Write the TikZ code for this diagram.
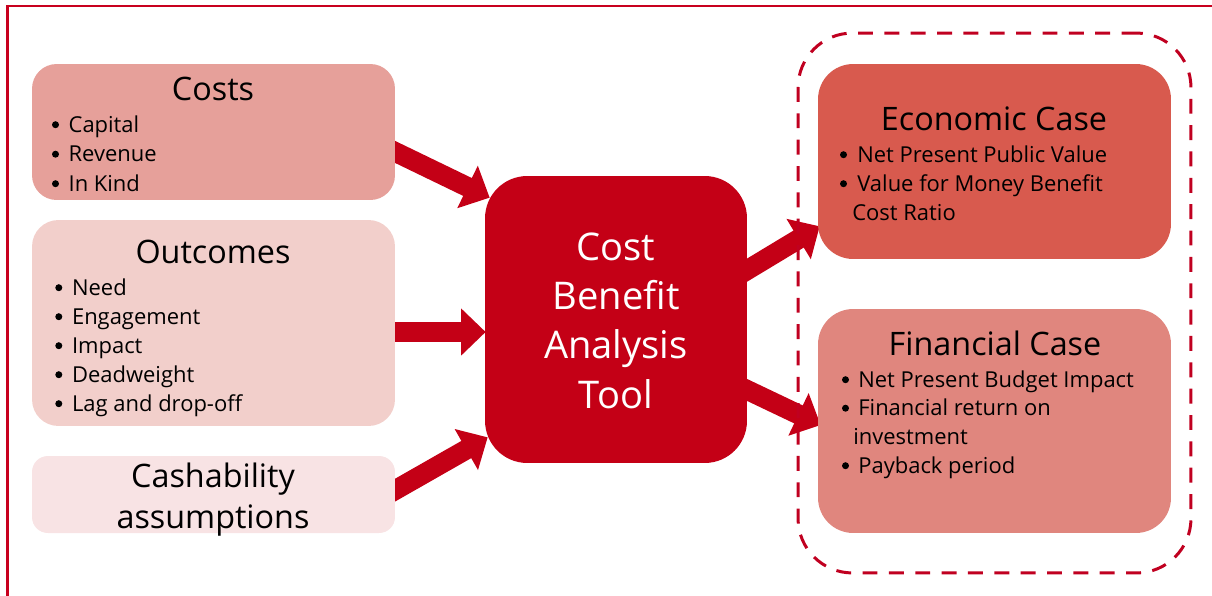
\documentclass[tikz,border=0pt]{standalone}
\usepackage{fontspec}
\setmainfont{Open Sans}
\usetikzlibrary{arrows.meta,calc,backgrounds}
\definecolor{framered}{RGB}{200,0,30}
\definecolor{arrowred}{RGB}{196,0,22}
\definecolor{dashred}{RGB}{192,0,32}
\definecolor{costfill}{RGB}{230,160,154}
\definecolor{outfill}{RGB}{242,207,203}
\definecolor{cashfill}{RGB}{248,227,228}
\definecolor{econfill}{RGB}{216,90,78}
\definecolor{finfill}{RGB}{224,134,126}
\tikzset{
  box/.style={rectangle, inner sep=0pt, draw=none},
  ttl/.style={font=\fontsize{18.4}{22}\selectfont, anchor=base, inner sep=0pt},
  bul/.style={font=\fontsize{12.5}{15}\selectfont, anchor=base west, inner sep=0pt},
  bigtxt/.style={font=\fontsize{21.7}{26}\selectfont, text=white, anchor=base, inner sep=0pt},
  bigarrow/.style={draw=arrowred, line width=11.3pt, -{Triangle[length=14pt,width=26pt]}},
  dot/.style={fill=black},
}
\begin{document}
\begin{tikzpicture}[x=0.02cm,y=-0.02cm]
\useasboundingbox (0,0) rectangle (1212,595);
% outer frame
\draw[framered, line width=1.4pt] (7.5,600) -- (7.5,6) -- (1220,6);
% group outline
\node[box, draw=dashred, line width=1.7pt, dash pattern=on 8.5pt off 6.5pt, rounded corners=31pt, minimum width=7.86cm, minimum height=10.8cm] (grp) at (994.5,303) {};
% boxes
\node[box, fill=costfill, rounded corners=14pt, minimum width=7.26cm, minimum height=2.72cm] (costs) at (213.5,132) {};
\node[box, fill=outfill, rounded corners=15pt, minimum width=7.26cm, minimum height=4.12cm] (outc) at (213.5,323) {};
\node[box, fill=cashfill, rounded corners=9pt, minimum width=7.26cm, minimum height=1.54cm] (cash) at (213.5,494.5) {};
\node[box, fill=arrowred, rounded corners=24pt, minimum width=5.24cm, minimum height=5.74cm] (cba) at (616,319.5) {};
\node[box, fill=econfill, rounded corners=20pt, minimum width=7.06cm, minimum height=3.9cm] (econ) at (994.5,161.5) {};
\node[box, fill=finfill, rounded corners=20pt, minimum width=7.06cm, minimum height=4.48cm] (fin) at (994.5,421) {};
% arrows
\begin{scope}[on background layer]
\draw[bigarrow] ($(costs.east)+(-10,15.2)$) -- ($(cba.north west)+(5,22)$);
\draw[bigarrow] ($(outc.east)+(-10,9)$) -- ($(cba.west)+(1,12.5)$);
\draw[bigarrow] ($(cash.east)+(-10,1.2)$) -- ($(cba.south west)+(3,-26)$);
\draw[bigarrow] ($(cba.east)+(-10,-43.5)$) -- ($(econ.south west)+(2,-33)$);
\draw[bigarrow] ($(cba.east)+(-10,65.8)$) -- ($(fin.west)+(3,4)$);
\end{scope}
% Costs text
\node[ttl] (costsT) at (213,100) {Costs};
\node[bul] (c1) at (68.3,132) {Capital};
\node[bul] (c2) at (68.3,161.5) {Revenue};
\node[bul] (c3) at (68.3,191) {In Kind};
% Outcomes text
\node[ttl] (outT) at (213,263) {Outcomes};
\node[bul] (o1) at (71.7,295) {Need};
\node[bul] (o2) at (71.7,324) {Engagement};
\node[bul] (o3) at (71.7,353) {Impact};
\node[bul] (o4) at (71.7,382) {Deadweight};
\node[bul] (o5) at (71.7,411) {Lag and drop-off};
% Cashability text
\node[ttl] (cashT1) at (213,487) {Cashability};
\node[ttl] (cashT2) at (213,528) {assumptions};
% Centre text
\node[bigtxt] (cbaT1) at (616,260) {Cost};
\node[bigtxt] (cbaT2) at (616,309) {Benefit};
\node[bigtxt] (cbaT3) at (616,358) {Analysis};
\node[bigtxt] (cbaT4) at (616,408) {Tool};
% Economic case
\node[ttl] (econT) at (994,130) {Economic Case};
\node[bul] (e1) at (857,162) {Net Present Public Value};
\node[bul] (e2) at (857,191) {Value for Money Benefit};
\node[bul] (e3) at (852,220) {Cost Ratio};
% Financial case
\node[ttl] (finT) at (995,355) {Financial Case};
\node[bul] (f1) at (858,387) {Net Present Budget Impact};
\node[bul] (f2) at (858,415.5) {Financial return on};
\node[bul] (f3) at (853,444) {investment};
\node[bul] (f4) at (858,473) {Payback period};
% bullet dots
\foreach \n in {c1,c2,c3}
  \fill[dot] ($(\n.base west)+(-12.8,-7.3)$) circle (3.5);
\foreach \n in {o1,o2,o3,o4,o5}
  \fill[dot] ($(\n.base west)+(-12.9,-7.3)$) circle (3.5);
\foreach \n in {e1,e2}
  \fill[dot] ($(\n.base west)+(-13.5,-7.3)$) circle (3.5);
\foreach \n in {f1,f2,f4}
  \fill[dot] ($(\n.base west)+(-12.5,-7.3)$) circle (3.5);
\end{tikzpicture}
\end{document}
